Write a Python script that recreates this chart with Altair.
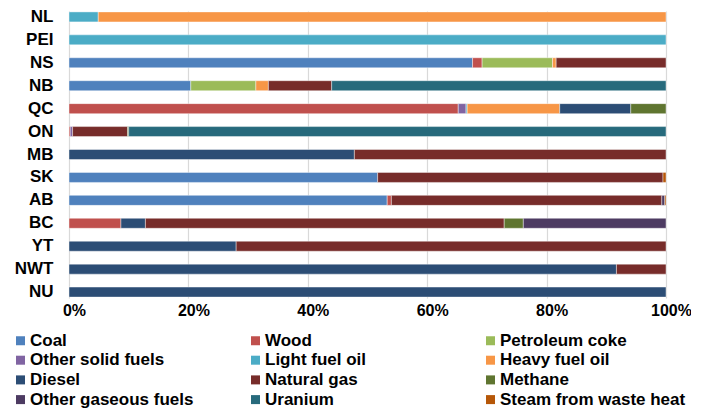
import altair as alt
import pandas as pd

provinces = ["NL", "PEI", "NS", "NB", "QC", "ON", "MB", "SK", "AB", "BC", "YT", "NWT", "NU"]

fuels = ["Coal", "Wood", "Petroleum coke", "Other solid fuels", "Light fuel oil",
         "Heavy fuel oil", "Diesel", "Natural gas", "Methane", "Other gaseous fuels",
         "Uranium", "Steam from waste heat"]

colors = ["#4F81BD", "#C0504D", "#9BBB59", "#8064A2", "#4BACC6", "#F79646",
          "#2C4D75", "#772C2A", "#5F7530", "#4D3B62", "#276A7C", "#B65708"]

# share (%) of each fuel, in province order
coal           = [0, 0, 67.6, 20.4, 0, 0, 0, 51.7, 53.3, 0, 0, 0, 0]
wood           = [0, 0, 1.6, 0, 65.2, 0.2, 0, 0, 0.7, 8.7, 0, 0, 0]
petroleum_coke = [0, 0, 11.8, 10.9, 0, 0, 0, 0, 0, 0, 0, 0, 0]
other_solid    = [0, 0, 0, 0, 1.3, 0.4, 0, 0, 0, 0, 0, 0, 0]
light_fuel_oil = [4.9, 100, 0, 0, 0.2, 0, 0, 0, 0, 0, 0, 0, 0]
heavy_fuel_oil = [95.1, 0, 0.6, 2.1, 15.5, 0, 0, 0, 0, 0, 0, 0, 0]
diesel         = [0, 0, 0, 0, 11.9, 0, 47.8, 0, 0, 4.1, 28.0, 91.7, 100]
natural_gas    = [0, 0, 18.4, 10.6, 0, 9.2, 52.2, 47.8, 45.3, 60.1, 72.0, 8.3, 0]
methane        = [0, 0, 0, 0, 5.9, 0.2, 0, 0, 0, 3.2, 0, 0, 0]
other_gaseous  = [0, 0, 0, 0, 0, 0, 0, 0, 0.5, 23.9, 0, 0, 0]
uranium        = [0, 0, 0, 56.0, 0, 90.0, 0, 0, 0, 0, 0, 0, 0]
steam          = [0, 0, 0, 0, 0, 0, 0, 0.5, 0.2, 0, 0, 0, 0]

x_ticks = [0, 20, 40, 60, 80, 100]

series = [coal, wood, petroleum_coke, other_solid, light_fuel_oil, heavy_fuel_oil,
          diesel, natural_gas, methane, other_gaseous, uranium, steam]

rows = []
for fi, (fuel, vals) in enumerate(zip(fuels, series)):
    for prov, v in zip(provinces, vals):
        if v > 0:
            rows.append({"province": prov, "fuel": fuel, "share": v, "idx": fi})
df = pd.DataFrame(rows)

# legend fills column by column; reorder so it reads row by row (3 columns x 4 rows)
n_cols, n_rows = 3, 4
legend_order = [r * n_cols + c for c in range(n_cols) for r in range(n_rows)]
legend_domain = [fuels[i] for i in legend_order]
legend_range = [colors[i] for i in legend_order]

FONT = "Liberation Sans"

chart = alt.Chart(df).mark_bar(size=10, stroke="white", strokeWidth=0.7, strokeOpacity=0.6).encode(
    x=alt.X("sum(share):Q", stack="zero",
            scale=alt.Scale(domain=[0, 100], nice=False),
            axis=alt.Axis(values=x_ticks, labelExpr="datum.value + '%'", title=None,
                          domain=False, ticks=False, grid=True, gridColor="#d9d9d9",
                          gridWidth=1.2, labelFont=FONT, labelFontSize=16,
                          labelFontWeight="bold", labelColor="#000000",
                          labelPadding=4, labelOffset=5, labelFlush=False)),
    y=alt.Y("province:N", sort=provinces,
            scale=alt.Scale(paddingInner=0.484, paddingOuter=0),
            axis=alt.Axis(title=None, domain=False, ticks=False, labelFont=FONT,
                          labelFontSize=17, labelFontWeight="bold", labelColor="#000000",
                          labelPadding=16)),
    color=alt.Color("fuel:N", scale=alt.Scale(domain=legend_domain, range=legend_range),
                    legend=alt.Legend(title=None, orient="none", legendX=-57, legendY=321,
                                      columns=3, columnPadding=31, rowPadding=1.7,
                                      gridAlign="all", symbolType="square", symbolSize=81,
                                      symbolStrokeWidth=0, labelFont=FONT, labelFontSize=17,
                                      labelFontWeight="bold", labelColor="#000000",
                                      labelOffset=1, labelLimit=260, padding=0)),
    order=alt.Order("idx:Q", sort="ascending"),
).properties(
    width=597, height=287,
    autosize=alt.AutoSizeParams(type="none"),
    padding={"left": 61, "top": 3, "right": 25, "bottom": 113},
).configure_view(stroke=None)

chart.save("out.html", embed_options={"renderer": "svg", "actions": False})
